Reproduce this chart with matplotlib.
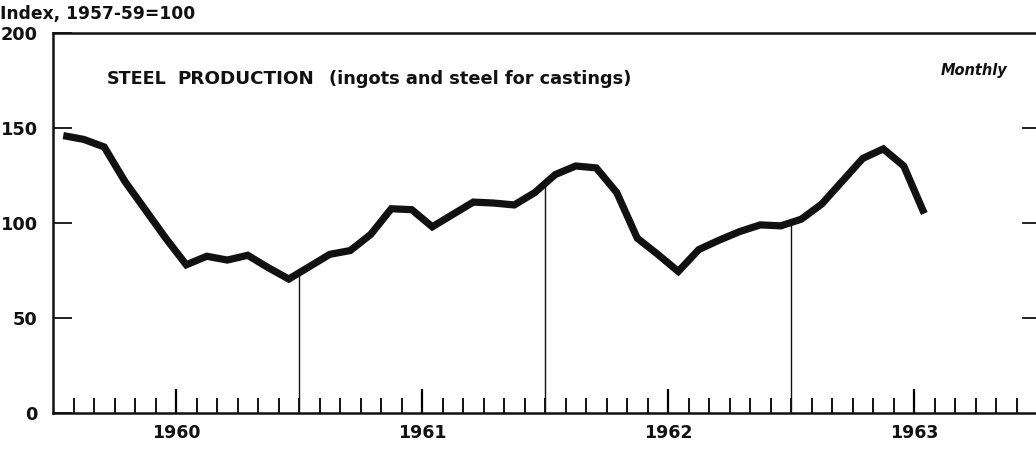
import numpy as np
import matplotlib
matplotlib.use("Agg")
import matplotlib.pyplot as plt

# Dane: indeks produkcji stali, miesięcznie sty 1960 - lip 1963 (1957-59 = 100)
months = np.arange(43)  # 0 = styczeń 1960
steel_index = [
    146, 144, 140, 122, 107, 92, 78, 82.5, 80.5, 83, 76.5, 70.5,        # 1960
    77, 83.5, 85.5, 94, 107.5, 107, 98, 104.5, 111, 110.5, 109.5, 116,  # 1961
    125.5, 130, 129, 116, 92, 83.5, 74.5, 86, 91, 95.5, 99, 98.5,       # 1962
    102, 110, 122, 134, 139, 130, 105,                                  # 1963
]
years = ["1960", "1961", "1962", "1963"]
y_ticks = [0, 50, 100, 150, 200]

FONT = "DejaVu Sans"
INK = "#111111"
W, H = 1036, 451

fig = plt.figure(figsize=(W / 100, H / 100), dpi=100)
ax = fig.add_axes([53 / W, 38 / H, 1 - 53 / W, 380 / H])

x = months + 0.5
ax.plot(x, steel_index, color=INK, lw=5.2, solid_joinstyle="miter", solid_capstyle="butt", zorder=3)

# pionowe linie na początku każdego roku, od osi do krzywej
for yr in range(1, 4):
    xb = 12 * yr
    ax.plot([xb, xb], [0, np.interp(xb, x, steel_index)], color=INK, lw=1.0, zorder=2)

ax.set_xlim(0, 47.95)
ax.set_ylim(0, 200)

# osie
for side in ["left", "top", "bottom"]:
    ax.spines[side].set_linewidth(1.8)
    ax.spines[side].set_color(INK)
ax.spines["right"].set_visible(False)

ax.set_yticks(y_ticks)
ax.set_yticklabels([str(v) for v in y_ticks], fontsize=12.8, fontfamily=FONT, fontweight="bold", color=INK)
ax.tick_params(axis="y", direction="in", length=14, width=1.3, pad=11, colors=INK)

# prawe znaczniki (150, 100, 50)
for v in y_ticks[1:4]:
    ax.plot([47.3, 47.95], [v, v], color=INK, lw=1.3, clip_on=False)

# znaczniki miesięczne
ax.set_xticks(np.arange(1, 48), minor=True)
ax.set_xticks([6 + 12 * i for i in range(4)])
ax.set_xticklabels(years, fontsize=12.5, fontfamily=FONT, fontweight="bold", color=INK)
ax.tick_params(axis="x", which="major", direction="in", length=17, width=1.6, pad=8)
ax.tick_params(axis="x", which="minor", direction="in", length=11, width=1.3)

fig.text(0.0, 1 - 14 / H, "Index, 1957-59=100", fontsize=12.3, fontfamily=FONT, fontweight="bold",
         color=INK, va="center", ha="left")

title_y = 1 - 79 / H
fig.text(107 / W, title_y, "STEEL", fontsize=12.6, fontfamily=FONT, fontweight="bold", color=INK, va="center")
fig.text(177 / W, title_y, "PRODUCTION", fontsize=13.2, fontfamily=FONT, fontweight="bold", color=INK, va="center")
fig.text(329 / W, title_y, "(ingots and steel for castings)", fontsize=12.8, fontfamily=FONT,
         fontweight="bold", color=INK, va="center")
fig.text(974 / W, 1 - 70 / H, "Monthly", fontsize=10.5, fontfamily=FONT, fontweight="bold",
         fontstyle="italic", color=INK, va="center", ha="center")

fig.savefig("out.png", dpi=100)
